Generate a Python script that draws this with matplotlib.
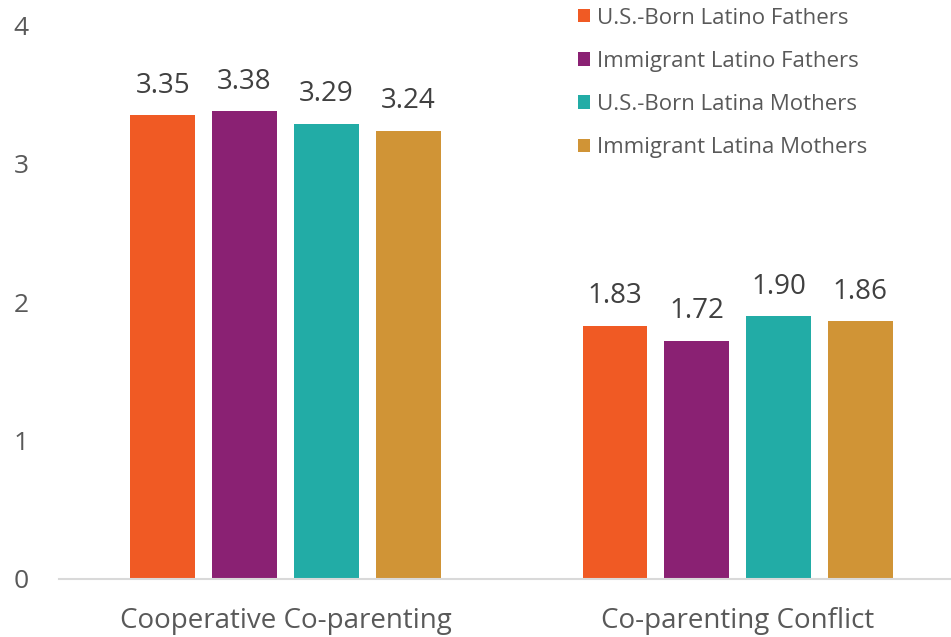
import matplotlib
matplotlib.use("Agg")
import matplotlib.pyplot as plt
import numpy as np

categories = ["Cooperative Co-parenting", "Co-parenting Conflict"]
series_names = ["U.S.-Born Latino Fathers", "Immigrant Latino Fathers",
                "U.S.-Born Latina Mothers", "Immigrant Latina Mothers"]
us_born_fathers = [3.35, 1.83]
immigrant_fathers = [3.38, 1.72]
us_born_mothers = [3.29, 1.90]
immigrant_mothers = [3.24, 1.86]
values = [us_born_fathers, immigrant_fathers, us_born_mothers, immigrant_mothers]
labels = [["3.35", "1.83"], ["3.38", "1.72"], ["3.29", "1.90"], ["3.24", "1.86"]]
colors = ["#F05A24", "#8A2173", "#22ACA6", "#D09436"]

plt.rcParams['font.family'] = ['Open Sans', 'DejaVu Sans']
grey = "#595959"

fig = plt.figure(figsize=(9.51, 6.37), dpi=100)
ax = fig.add_axes([0.062, 0.0918, 0.938, 0.868])

x = np.arange(len(categories))
width = 0.143
step = 0.181
for i, (vals, name, c) in enumerate(zip(values, series_names, colors)):
    bars = ax.bar(x + (i - 1.5) * step, vals, width, color=c, label=name)
    ax.bar_label(bars, labels=labels[i], padding=11, fontsize=20, color="#404040")

ax.set_xlim(-0.501, 1.472)
ax.set_ylim(0, 4)
ax.set_yticks([0, 1, 2, 3, 4])
ax.set_xticks(x)
ax.set_xticklabels(categories, fontsize=20, color=grey)
ax.tick_params(axis='y', labelsize=19, colors=grey, length=0, pad=22)
ax.tick_params(axis='x', length=0, pad=20.5)
for s in ["top", "right", "left"]:
    ax.spines[s].set_visible(False)
ax.spines["bottom"].set_color("#D9D9D9")
ax.spines["bottom"].set_linewidth(1.5)

leg = ax.legend(loc="upper left", bbox_to_anchor=(0.5594, 1.0689), frameon=False,
                fontsize=16, handlelength=0.55, handleheight=0.55,
                handletextpad=0.3, labelspacing=1.0, labelcolor=grey)

fig.savefig("out.png", dpi=100)
